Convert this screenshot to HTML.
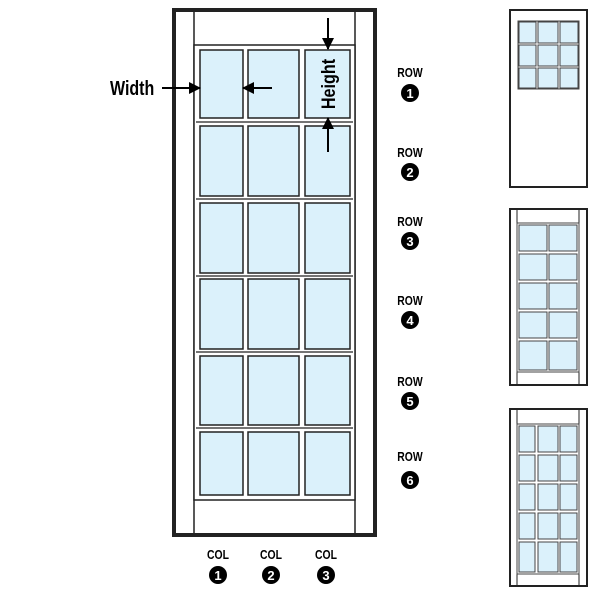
<!DOCTYPE html>
<html><head><style>body{margin:0;background:#fff}svg{display:block}</style></head><body>
<svg width="600" height="600" viewBox="0 0 600 600" xmlns="http://www.w3.org/2000/svg" font-family="Liberation Sans, sans-serif">
<defs>
<marker id="ah" markerWidth="12" markerHeight="12" refX="11" refY="6" orient="auto" markerUnits="userSpaceOnUse"><path d="M0,0 L12,6 L0,12 z" fill="#000"/></marker>
</defs>
<!-- main door -->
<rect x="174" y="10" width="201" height="525" fill="#fff" stroke="#222" stroke-width="4"/>
<line x1="194" y1="10" x2="194" y2="535" stroke="#222" stroke-width="1.5"/>
<line x1="355" y1="10" x2="355" y2="535" stroke="#222" stroke-width="1.5"/>
<rect x="194" y="45" width="161" height="455" fill="#fff" stroke="#222" stroke-width="1.5"/>
<g fill="#dbf1fb" stroke="#222" stroke-width="1.5">
<rect x="200" y="50" width="43" height="68"/><rect x="248" y="50" width="51" height="68"/><rect x="305" y="50" width="45" height="68"/>
<rect x="200" y="126" width="43" height="70"/><rect x="248" y="126" width="51" height="70"/><rect x="305" y="126" width="45" height="70"/>
<rect x="200" y="203" width="43" height="70"/><rect x="248" y="203" width="51" height="70"/><rect x="305" y="203" width="45" height="70"/>
<rect x="200" y="279" width="43" height="70"/><rect x="248" y="279" width="51" height="70"/><rect x="305" y="279" width="45" height="70"/>
<rect x="200" y="356" width="43" height="69"/><rect x="248" y="356" width="51" height="69"/><rect x="305" y="356" width="45" height="69"/>
<rect x="200" y="432" width="43" height="63"/><rect x="248" y="432" width="51" height="63"/><rect x="305" y="432" width="45" height="63"/>
</g>
<g stroke="#222" stroke-width="1.2" fill="none">
<line x1="196" y1="122" x2="353" y2="122"/><line x1="196" y1="199" x2="353" y2="199"/><line x1="196" y1="276" x2="353" y2="276"/><line x1="196" y1="352" x2="353" y2="352"/><line x1="196" y1="428" x2="353" y2="428"/>
</g>
<!-- dimension arrows -->
<text transform="translate(110,95) scale(0.8,1)" font-size="20" font-weight="bold">Width</text>
<line x1="162" y1="88" x2="200" y2="88" stroke="#000" stroke-width="2" marker-end="url(#ah)"/>
<line x1="272" y1="88" x2="243" y2="88" stroke="#000" stroke-width="2" marker-end="url(#ah)"/>
<line x1="328" y1="18" x2="328" y2="49" stroke="#000" stroke-width="2" marker-end="url(#ah)"/>
<line x1="328" y1="152" x2="328" y2="118" stroke="#000" stroke-width="2" marker-end="url(#ah)"/>
<text transform="translate(335,84) rotate(-90) scale(0.85,1)" text-anchor="middle" font-size="19" font-weight="bold">Height</text>
<!-- row labels -->
<g font-size="13" font-weight="bold" text-anchor="middle">
<g transform="translate(410,0) scale(0.8,1)">
<text x="0" y="77">ROW</text><text x="0" y="157">ROW</text><text x="0" y="226">ROW</text><text x="0" y="305">ROW</text><text x="0" y="386">ROW</text><text x="0" y="461">ROW</text>
</g>
<circle cx="410" cy="93" r="9"/><text x="410" y="98" fill="#fff">1</text>
<circle cx="410" cy="172" r="9"/><text x="410" y="177" fill="#fff">2</text>
<circle cx="410" cy="241" r="9"/><text x="410" y="246" fill="#fff">3</text>
<circle cx="410" cy="320" r="9"/><text x="410" y="325" fill="#fff">4</text>
<circle cx="410" cy="401" r="9"/><text x="410" y="406" fill="#fff">5</text>
<circle cx="410" cy="480" r="9"/><text x="410" y="485" fill="#fff">6</text>
<text transform="translate(218,559) scale(0.8,1)">COL</text><circle cx="218" cy="575" r="9"/><text x="218" y="580" fill="#fff">1</text>
<text transform="translate(271,559) scale(0.8,1)">COL</text><circle cx="271" cy="575" r="9"/><text x="271" y="580" fill="#fff">2</text>
<text transform="translate(326,559) scale(0.8,1)">COL</text><circle cx="326" cy="575" r="9"/><text x="326" y="580" fill="#fff">3</text>
</g>
<!-- small door 1 -->
<rect x="510" y="10" width="77" height="177" fill="#fff" stroke="#222" stroke-width="2"/>
<g fill="#dbf1fb" stroke="#444" stroke-width="1">
<rect x="518" y="21" width="61" height="68" fill="#fff"/>
<rect x="519" y="22" width="17" height="21"/><rect x="538" y="22" width="20" height="21"/><rect x="560" y="22" width="18" height="21"/>
<rect x="519" y="45" width="17" height="21"/><rect x="538" y="45" width="20" height="21"/><rect x="560" y="45" width="18" height="21"/>
<rect x="519" y="68" width="17" height="20"/><rect x="538" y="68" width="20" height="20"/><rect x="560" y="68" width="18" height="20"/>
</g>
<!-- small door 2 -->
<rect x="510" y="209" width="77" height="176" fill="#fff" stroke="#222" stroke-width="2"/>
<line x1="517" y1="209" x2="517" y2="385" stroke="#222"/><line x1="579" y1="209" x2="579" y2="385" stroke="#222"/>
<g fill="#dbf1fb" stroke="#444" stroke-width="1">
<rect x="517" y="223" width="62" height="149" fill="#fff"/>
<rect x="519" y="225" width="28" height="26"/><rect x="549" y="225" width="28" height="26"/>
<rect x="519" y="254" width="28" height="26"/><rect x="549" y="254" width="28" height="26"/>
<rect x="519" y="283" width="28" height="26"/><rect x="549" y="283" width="28" height="26"/>
<rect x="519" y="312" width="28" height="26"/><rect x="549" y="312" width="28" height="26"/>
<rect x="519" y="341" width="28" height="29"/><rect x="549" y="341" width="28" height="29"/>
</g>
<!-- small door 3 -->
<rect x="510" y="409" width="77" height="177" fill="#fff" stroke="#222" stroke-width="2"/>
<line x1="517" y1="409" x2="517" y2="586" stroke="#222"/><line x1="579" y1="409" x2="579" y2="586" stroke="#222"/>
<g fill="#dbf1fb" stroke="#444" stroke-width="1">
<rect x="517" y="424" width="62" height="150" fill="#fff"/>
<rect x="519" y="426" width="16" height="26"/><rect x="538" y="426" width="20" height="26"/><rect x="560" y="426" width="17" height="26"/>
<rect x="519" y="455" width="16" height="26"/><rect x="538" y="455" width="20" height="26"/><rect x="560" y="455" width="17" height="26"/>
<rect x="519" y="484" width="16" height="26"/><rect x="538" y="484" width="20" height="26"/><rect x="560" y="484" width="17" height="26"/>
<rect x="519" y="513" width="16" height="26"/><rect x="538" y="513" width="20" height="26"/><rect x="560" y="513" width="17" height="26"/>
<rect x="519" y="542" width="16" height="30"/><rect x="538" y="542" width="20" height="30"/><rect x="560" y="542" width="17" height="30"/>
</g>
</svg>
</body></html>
